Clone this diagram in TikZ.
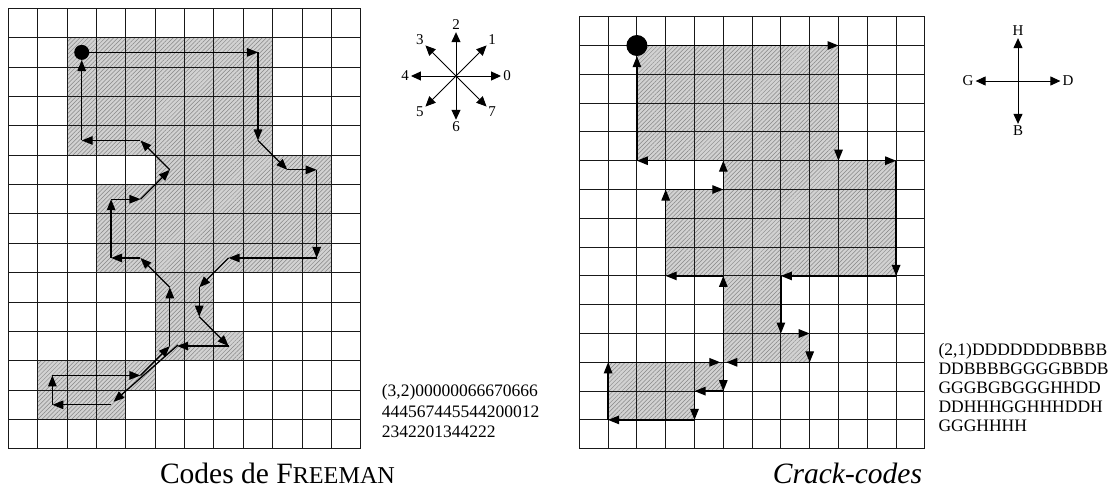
\documentclass[tikz,border=0pt]{standalone}
\usepackage{fontspec}
\setmainfont{Liberation Serif}
\usetikzlibrary{arrows.meta,patterns.meta,calc}

% outline of the object, in cell units
\newcommand{\blobpath}{(2,1) -- (9,1) -- (9,5) -- (11,5) -- (11,9) -- (7,9) -- (7,11)
  -- (8,11) -- (8,12) -- (5,12) -- (5,13) -- (4,13) -- (4,14) -- (1,14) -- (1,12)
  -- (5,12) -- (5,9) -- (3,9) -- (3,6) -- (5,6) -- (5,5) -- (2,5) -- cycle}

\tikzset{
  gridline/.style={line width=0.85pt, black!90},
  blob/.style={fill=gray!35,
    postaction={pattern color=gray!95, pattern={Lines[angle=45,distance=3pt,line width=0.5pt]}}},
  chain/.style={line width=1.3pt, -{Triangle[length=11pt,width=8.5pt]}},
  startdot/.style={circle, fill=black, inner sep=0pt},
  rose/.style={line width=1pt, -{Triangle[length=10pt,width=9pt]}, shorten >=1.5pt},
  dirlabel/.style={inner sep=0.5pt, font=\fontsize{15}{18}\selectfont},
  codeline/.style={anchor=base west, inner sep=0pt, font=\fontsize{17.5}{20}\selectfont},
  caption/.style={anchor=base, inner sep=0pt, font=\fontsize{29.5}{34}\selectfont}
}

\begin{document}
\begin{tikzpicture}[x=1pt, y=-1pt]
\useasboundingbox (0,0) rectangle (1110,491);

% Freeman codes
\begin{scope}[shift={(8.3pt,-8.3pt)}, x=29.37pt, y=-29.37pt]
 \path[blob] \blobpath;
 \foreach \i in {0,...,12} \draw[gridline] (\i,0) -- (\i,15);
 \foreach \j in {0,...,15} \draw[gridline] (0,\j) -- (12,\j);
 \node[startdot, minimum size=15pt] (fstart) at (2.5,1.5) {};
 \draw[chain] (fstart) -- (8.5,1.5);
 \foreach \x/\y [remember=\x as \px (initially 8.5), remember=\y as \py (initially 1.5)]
   in {8.5/4.5, 9.5/5.5, 10.5/5.5, 10.5/8.5, 7.5/8.5, 6.5/9.5, 6.5/10.5, 7.5/11.5}
   \draw[chain] (\px,\py) -- (\x,\y);
 \draw[chain] (7.5,11.5) -- (5.75,11.5);
 \draw[chain] (5.78,11.46) -- (3.58,13.4);
 \foreach \x/\y [remember=\x as \px (initially 3.5), remember=\y as \py (initially 13.5)]
   in {1.5/13.5, 1.5/12.5, 4.5/12.5, 5.5/11.5, 5.5/9.5, 4.5/8.5, 3.5/8.5,
       3.5/6.5, 4.5/6.5, 5.5/5.5, 4.5/4.5, 2.5/4.5}
   \draw[chain] (\px,\py) -- (\x,\y);
 \draw[chain] (2.5,4.5) -- (fstart);
\end{scope}

\coordinate (fc) at (456,76);
\foreach \d in {0,...,7}
 \node[dirlabel] (f\d) at ($(fc)+(\d*45:51pt)$) {\d};
\foreach \d in {0,...,7}
 \draw[rose] (fc) -- (f\d);

\node[codeline] (fcode1) at (381.7,396.6) {(3,2)00000066670666};
\node[codeline] (fcode2) at (381.7,417.1) {444567445544200012};
\node[codeline] (fcode3) at (381.7,437.6) {2342201344222};
\node[caption] (fcap) at (277.5,483) {Codes de F{\fontsize{24.2}{28}\selectfont REEMAN}};

% crack codes
\begin{scope}[shift={(579.3pt,-16.7pt)}, x=28.8pt, y=-28.8pt]
 \path[blob] \blobpath;
 \foreach \i in {0,...,12} \draw[gridline] (\i,0) -- (\i,15);
 \foreach \j in {0,...,15} \draw[gridline] (0,\j) -- (12,\j);
 \node[startdot, minimum size=21pt] (cstart) at (2,1) {};
 \draw[chain] (cstart) -- (9,1);
 \foreach \x/\y [remember=\x as \px (initially 9), remember=\y as \py (initially 1)]
   in {9/5, 11/5, 11/9, 7/9, 7/11, 8/11, 8/12}
   \draw[chain] (\px,\py) -- (\x,\y);
 \draw[chain, shorten >=3pt] (8,12) -- (5,12);
 \foreach \x/\y [remember=\x as \px (initially 5), remember=\y as \py (initially 12)]
   in {5/13, 4/13, 4/14, 1/14, 1/12}
   \draw[chain] (\px,\py) -- (\x,\y);
 \draw[chain, shorten >=3pt] (1,12) -- (5,12);
 \foreach \x/\y [remember=\x as \px (initially 5), remember=\y as \py (initially 12)]
   in {5/9, 3/9, 3/6, 5/6, 5/5, 2/5}
   \draw[chain] (\px,\py) -- (\x,\y);
 \draw[chain] (2,5) -- (cstart);
\end{scope}

\coordinate (cc) at (1018,81);
\foreach \d/\a in {D/0, H/90, G/180, B/270}
 \node[dirlabel] (c\d) at ($(cc)+(\a:50pt)$) {\d};
\foreach \d in {D,H,G,B}
 \draw[rose] (cc) -- (c\d);

\node[codeline] (ccode1) at (938.3,355.8) {(2,1)DDDDDDDBBBB};
\node[codeline] (ccode2) at (938.3,374.6) {DDBBBBGGGGBBDB};
\node[codeline] (ccode3) at (938.3,393.4) {GGGBGBGGGHHDD};
\node[codeline] (ccode4) at (938.3,412.2) {DDHHHGGHHHDDH};
\node[codeline] (ccode5) at (938.3,431) {GGGHHHH};
\node[caption] (ccap) at (847.5,483) {\itshape Crack-codes};
\end{tikzpicture}
\end{document}
